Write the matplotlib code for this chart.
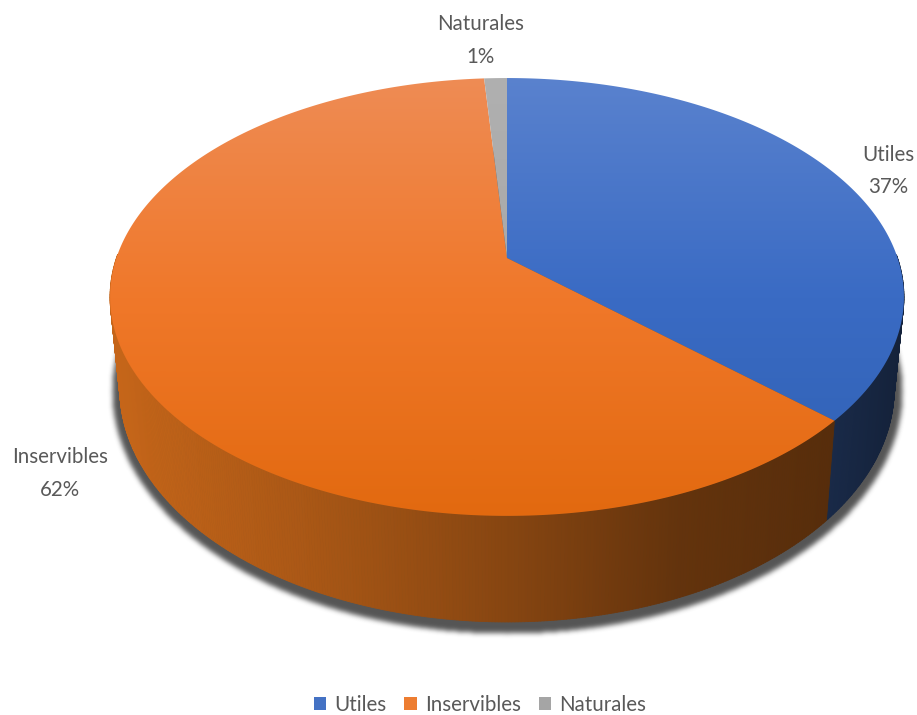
import numpy as np
import matplotlib
matplotlib.use("Agg")
import matplotlib.pyplot as plt
from matplotlib.patches import Polygon, Patch
from matplotlib.collections import PolyCollection
from matplotlib.colors import LinearSegmentedColormap, to_rgb

categories = ["Utiles", "Inservibles", "Naturales"]
values = [36.8, 62.1, 1.1]
base_colors = ["#4472C4", "#ED7D31", "#A5A5A5"]
side_colors = ["#4472C4", "#ED7A1E", "#A5A5A5"]
top_ramps = [["#5A82CE", "#3A6BC4", "#2F60B2"],
             ["#EE8C55", "#F0782A", "#E2690F"],
             ["#B0B0B0", "#A8A8A8", "#A5A5A5"]]

W, H = 917, 715
plt.rcParams["font.family"] = ["Lato", "DejaVu Sans"]
TEXT = "#595959"
FS = 14.8

fig = plt.figure(figsize=(W / 100, H / 100), dpi=100, facecolor="white")
ax = fig.add_axes([0, 0, 1, 1])
ax.set_xlim(0, W)
ax.set_ylim(H, 0)
ax.axis("off")

K = 0.178
TOP = dict(x0=507, y0=258, bx=390.6, ay=212)
LOW = dict(x0=507, y0=347, bx=381, ay=226)


def rim(theta, g):
    """theta: clockwise from 12 o'clock, radians; perspective projection of the disc."""
    u, v = np.sin(theta), np.cos(theta)
    d = 1 + K * v
    return g["x0"] + g["bx"] * u / d, g["y0"] - g["ay"] * v / d


frac = np.array(values, float) / sum(values)
edges = np.concatenate([[0], np.cumsum(frac)]) * 2 * np.pi
edges[-1] = 2 * np.pi

# soft shadow below the disc
yy, xx = np.mgrid[0:H, 0:W]
mask = (((xx - 507) / 395.0) ** 2 + ((yy - 391) / 242.0) ** 2 <= 1).astype(float)
for _ in range(3):
    kernel = np.ones(5) / 5
    mask = np.apply_along_axis(lambda r: np.convolve(r, kernel, "same"), 0, mask)
    mask = np.apply_along_axis(lambda r: np.convolve(r, kernel, "same"), 1, mask)
rgba = np.zeros((H, W, 4))
rgba[..., :3] = 0.30
rgba[..., 3] = mask * 0.95
ax.imshow(rgba, extent=(0, W, H, 0), zorder=1, interpolation="bilinear", aspect="auto")

# side wall (front half only), shaded left to right
quads, cols = [], []
for i, base in enumerate(side_colors):
    th = np.linspace(edges[i], edges[i + 1], max(3, int(frac[i] * 900)))
    th = th[np.cos(th) < 0.02]
    if len(th) < 2:
        continue
    xt, yt = rim(th, TOP)
    xb, yb = rim(th, LOW)
    for j in range(len(th) - 1):
        xm = (xt[j] + xt[j + 1]) / 2
        f = np.interp(xm, [118, 300, 507, 680, 830, 900], [0.83, 0.72, 0.57, 0.42, 0.37, 0.30])
        quads.append([(xt[j], yt[j]), (xt[j + 1], yt[j + 1]),
                      (xb[j + 1], yb[j + 1]), (xb[j], yb[j])])
        cols.append(tuple(c * f for c in to_rgb(base)))
order = np.argsort([max(p[1] for p in q) for q in quads])
ax.add_collection(PolyCollection([quads[i] for i in order],
                                 facecolors=[cols[i] for i in order],
                                 edgecolors="face", linewidths=0.6, zorder=2))

# top face with a vertical light ramp
grad = np.linspace(0, 1, 500)[:, None]
for i, ramp in enumerate(top_ramps):
    th = np.linspace(edges[i], edges[i + 1], 300)
    xt, yt = rim(th, TOP)
    pts = np.column_stack([np.r_[TOP["x0"], xt], np.r_[TOP["y0"], yt]])
    cmap = LinearSegmentedColormap.from_list("r", ramp)
    im = ax.imshow(grad, extent=(100, 915, 520, 75), cmap=cmap, zorder=3, aspect="auto")
    poly = Polygon(pts, closed=True, transform=ax.transData, facecolor="none", edgecolor="none")
    ax.add_patch(poly)
    im.set_clip_path(poly)

ax.set_xlim(0, W)
ax.set_ylim(H, 0)

# data labels
label_pos = [(888, 155, 187), (60, 457, 490), (481, 24, 57)]
for name, val, (x, y1, y2) in zip(categories, values, label_pos):
    ax.text(x, y1, name, ha="center", va="center", fontsize=FS, color=TEXT, zorder=5)
    ax.text(x, y2, f"{round(val)}%", ha="center", va="center", fontsize=FS, color=TEXT, zorder=5)

handles = [Patch(facecolor=c, edgecolor="none", label=n) for c, n in zip(base_colors, categories)]
ax.legend(handles=handles, ncol=3, loc="lower center", bbox_to_anchor=(480 / W, 0.0),
          frameon=False, fontsize=FS, labelcolor=TEXT, handlelength=0.62, handleheight=0.62,
          handletextpad=0.4, columnspacing=0.85, borderpad=0, borderaxespad=0)

fig.savefig("out.png", dpi=100, facecolor="white")
